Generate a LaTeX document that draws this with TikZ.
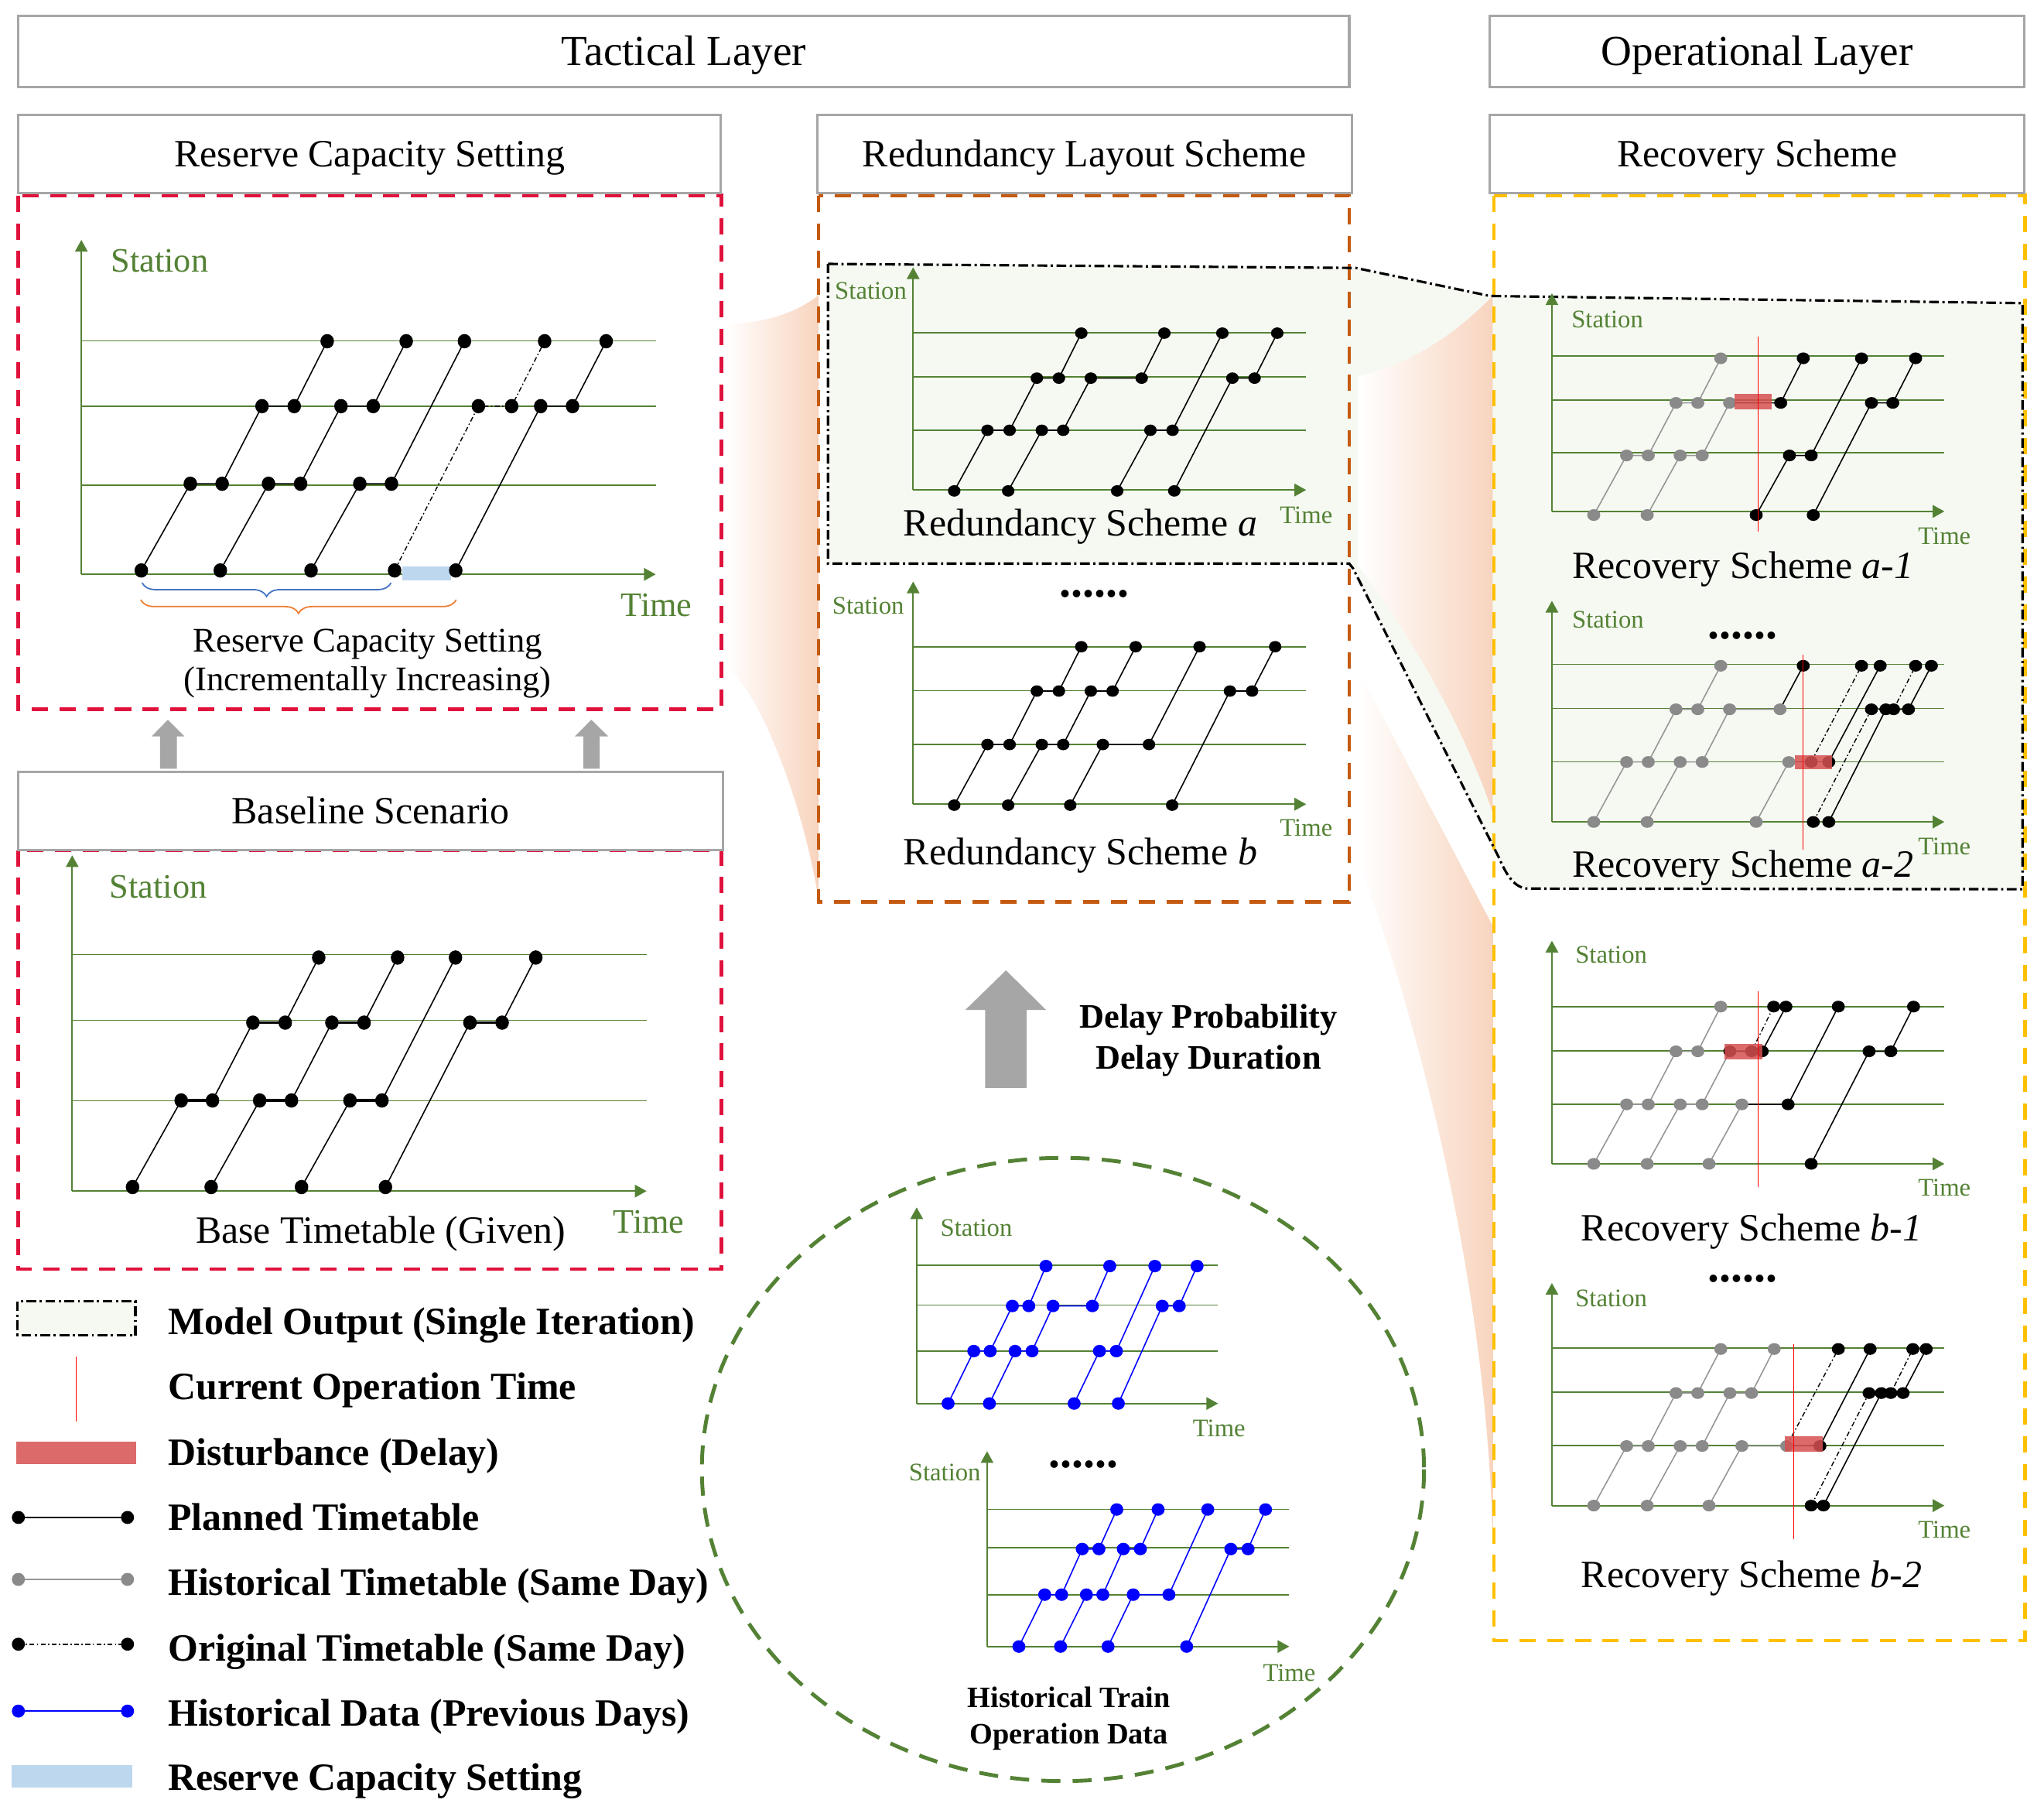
\documentclass[tikz,border=0pt]{standalone}
\usepackage{fontspec}
\setmainfont{Liberation Serif}
\usetikzlibrary{arrows.meta,decorations.pathreplacing}
\newlength{\px}\setlength{\px}{0.16849mm}
\definecolor{grn}{RGB}{84,130,53}
\definecolor{hdrgray}{RGB}{166,166,166}
\definecolor{crim}{RGB}{224,18,60}
\definecolor{orng}{RGB}{197,90,17}
\definecolor{yllw}{RGB}{255,192,0}
\definecolor{mofill}{RGB}{246,249,242}
\definecolor{funnel}{RGB}{248,212,190}
\definecolor{delayred}{RGB}{214,80,80}
\definecolor{resblue}{RGB}{189,215,238}
\definecolor{histgray}{RGB}{138,138,138}
\definecolor{histline}{RGB}{150,150,150}
\definecolor{datablue}{RGB}{0,0,255}
\definecolor{brblue}{RGB}{68,114,196}
\definecolor{brorange}{RGB}{237,125,49}
\definecolor{arrowgray}{RGB}{166,166,166}
\newcommand{\pts}[4]{\foreach \xx/\yy in {#4}{\fill[#1] (\xx,\yy) ellipse [x radius=#2, y radius=#3];}}
\tikzset{
 txt/.style={inner sep=0pt, text depth=0pt},
 titlebox/.style={draw=hdrgray, line width=0.9pt, fill=white, inner sep=0pt, text depth=0pt, text height=10.4pt, font=\fontsize{15.7}{18}\selectfont},
 hdrbox/.style={draw=hdrgray, line width=0.9pt, fill=white, inner sep=0pt, text depth=0pt, text height=9.4pt, font=\fontsize{14.2}{17}\selectfont},
 capt/.style={txt, text height=9.4pt, font=\fontsize{14.2}{17}\selectfont},
 captsm/.style={txt, text height=8.4pt, font=\fontsize{12.7}{15}\selectfont},
 slbl/.style={txt, text height=6.1pt, text=grn, font=\fontsize{9.3}{11}\selectfont},
 blbl/.style={txt, text height=8.3pt, text=grn, font=\fontsize{12.6}{15}\selectfont},
 legtxt/.style={txt, text height=9.4pt, anchor=west, font=\fontsize{14.2}{17}\selectfont\bfseries},
 boldtxt/.style={txt, text height=8.3pt, font=\fontsize{12.6}{15}\selectfont\bfseries},
 histtxt/.style={txt, text height=7.2pt, font=\fontsize{10.9}{13}\selectfont\bfseries},
 ellip/.style={inner sep=0pt, text height=2pt, text depth=0pt, font=\fontsize{17}{20}\selectfont\bfseries},
 dashbox/.style={line width=1.3pt, dash pattern=on 6pt off 4.2pt},
 modelout/.style={draw=black, line width=0.9pt, dash pattern=on 3.6pt off 1.3pt on 0.8pt off 1.3pt},
 axisln/.style={draw=grn, line width=0.6pt, -{Triangle[length=4.3pt,width=4.6pt]}},
 stn/.style={draw=grn, line width=0.45pt},
 trn/.style={draw=black, line width=0.45pt},
 hst/.style={draw=histline, line width=0.45pt},
 org/.style={draw=black, line width=0.4pt, dash pattern=on 1.8pt off 0.9pt on 0.5pt off 0.9pt},
 blu/.style={draw=datablue, line width=0.45pt},
 nowln/.style={draw=red, line width=0.45pt},
 delay/.style={fill=delayred, fill opacity=0.85},
}
\begin{document}
\begin{tikzpicture}[x=0.16849mm, y=-0.16849mm]
\useasboundingbox (0,0) rectangle (1568,1388);
\fill[white] (0,0) rectangle (1568,1388);

% model output area (fill)
\fill[mofill] (635.2,202.4) -- (1040,205.5) -- (1143,227) -- (1551.5,232.5) -- (1551.5,682) -- (1172,681.5) .. controls (1162,681) and (1156,672) .. (1150,658) -- (1038,436) -- (1035,432.2) -- (635.2,432.2) -- cycle;

% funnels
\shade[left color=white, right color=funnel] (556,249) .. controls (590,247) and (610,240) .. (628,226.5) -- (628,690) .. controls (615,610) and (580,525) .. (556,511) -- cycle;
\shade[left color=white, right color=funnel] (1042,288.5) .. controls (1080,280) and (1115,258) .. (1145,227) -- (1145,623) .. controls (1120,550) and (1080,485) .. (1042,434) -- cycle;
\shade[left color=white, right color=funnel] (1042,514) -- (1145,710) -- (1145,1179) .. controls (1140,960) and (1075,745) .. (1042,661) -- cycle;

% dashed frames
\draw[crim, dashbox] (14,150) rectangle (553.5,544);
\draw[crim, dashbox] (14,652) rectangle (553.5,973.3);
\draw[orng, dashbox] (628,150) rectangle (1035,691.7);
\draw[yllw, dashbox] (1146,150) rectangle (1553.4,1258.2);

% headers
\node[titlebox, minimum width=1021*\px, minimum height=55*\px] (tac) at (524.5,39.5) {Tactical Layer};
\node[titlebox, minimum width=410*\px, minimum height=55*\px] (opl) at (1348,39.5) {Operational Layer};
\node[hdrbox, minimum width=539*\px, minimum height=60*\px] (rcs) at (283.5,118) {Reserve Capacity Setting};
\node[hdrbox, minimum width=410*\px, minimum height=60*\px] (rls) at (832,118) {Redundancy Layout Scheme};
\node[hdrbox, minimum width=410*\px, minimum height=60*\px] (rec) at (1348,118) {Recovery Scheme};
\node[hdrbox, minimum width=541*\px, minimum height=60*\px] (bsl) at (284.3,622) {Baseline Scenario};

% model output outline
\draw[modelout] (635.2,202.4) -- (1040,205.5) -- (1143,227) -- (1551.5,232.5) -- (1551.5,682) -- (1172,681.5) .. controls (1162,681) and (1156,672) .. (1150,658) -- (1038,436) -- (1035,432.2) -- (635.2,432.2) -- cycle;

% small gray arrows
\fill[arrowgray] (122.8,589.5) -- (122.8,564.8) -- (116.3,564.8) -- (128.8,552) -- (141.5,564.8) -- (135.7,564.8) -- (135.7,589.5) -- cycle;
\fill[arrowgray] (447.5,589.5) -- (447.5,564.8) -- (441,564.8) -- (453.6,552) -- (466.7,564.8) -- (460,564.8) -- (460,589.5) -- cycle;
% big gray arrow
\fill[arrowgray] (755.8,834.4) -- (755.8,774.5) -- (740.6,774.5) -- (771.7,744.2) -- (802.4,774.5) -- (787.5,774.5) -- (787.5,834.4) -- cycle;
\node[boldtxt] (dprob) at (927,780) {Delay Probability};
\node[boldtxt] (ddur) at (927,811) {Delay Duration};

%================ Chart 1: reserve capacity
\draw[axisln] (62.4,440.5) -- (62.4,184);
\draw[axisln] (62.4,440.5) -- (503,440.5);
\foreach \yy in {261.5,311.5,372} \draw[stn] (62.4,\yy) -- (503,\yy);
\fill[resblue] (308.6,434.5) rectangle (346.2,445);
\draw[trn] (108.4,437.5) -- (146,371) -- (170.4,371) -- (201,311.5) -- (225.7,311.5) -- (251,261.7);
\draw[trn] (169,437.5) -- (206,371) -- (230.6,371) -- (261.6,311.5) -- (286.3,311.5) -- (311.6,261.7);
\draw[trn] (238.6,437.5) -- (276,371) -- (300.3,371) -- (356.3,261.7);
\draw[org] (302.7,437.5) -- (367,311.5) -- (392.5,311.5) -- (417.8,261.7);
\draw[trn] (349.6,437.5) -- (414.8,311.5) -- (439.2,311.5) -- (465,261.7);
\pts{black}{5.2}{5.5}{108.4/437.5,169/437.5,238.6/437.5,302.7/437.5,349.6/437.5,
 146/371,170.4/371,206/371,230.6/371,276/371,300.3/371,
 201/311.5,225.7/311.5,261.6/311.5,286.3/311.5,367/311.5,392.5/311.5,414.8/311.5,439.2/311.5,
 251/261.7,311.6/261.7,356.3/261.7,417.8/261.7,465/261.7}
\draw[brblue, line width=0.5pt, decorate, decoration={brace, mirror, amplitude=5pt}] (109,447) -- (300,447);
\draw[brorange, line width=0.5pt, decorate, decoration={brace, mirror, amplitude=5pt}] (108,460) -- (350,460);
\node[blbl] (st1) at (122.5,200) {Station};
\node[blbl] (tm1) at (503.6,464) {Time};
\node[captsm] (c1a) at (282,491) {Reserve Capacity Setting};
\node[captsm] (c1b) at (282,521) {(Incrementally Increasing)};

%================ Chart 2: baseline
\draw[axisln] (55.4,913.5) -- (55.4,656);
\draw[axisln] (55.4,913.5) -- (496,913.5);
\foreach \yy in {732,782.6,844.3} \draw[stn] (55.4,\yy) -- (496,\yy);
\draw[trn] (101.7,910.4) -- (139,844) -- (163,844) -- (194,784.3) -- (218.8,784.3) -- (244.5,734.4);
\draw[trn] (162,910.4) -- (199.2,844) -- (223.6,844) -- (254.6,784.3) -- (279.3,784.3) -- (305,734.4);
\draw[trn] (231.3,910.4) -- (268.5,844) -- (293,844) -- (349.4,734.4);
\draw[trn] (295.7,910.4) -- (360.5,784.3) -- (385.2,784.3) -- (411,734.4);
\foreach \a/\b in {139/163,199.2/223.6,268.5/293} \draw[black, line width=1.1pt] (\a,844) -- (\b,844);
\foreach \a/\b in {194/218.8,254.6/279.3,360.5/385.2} \draw[black, line width=1.1pt] (\a,784.3) -- (\b,784.3);
\pts{black}{5.2}{5.5}{101.7/910.4,162/910.4,231.3/910.4,295.7/910.4,
 139/844,163/844,199.2/844,223.6/844,268.5/844,293/844,
 194/784.3,218.8/784.3,254.6/784.3,279.3/784.3,360.5/784.3,385.2/784.3,
 244.5/734.4,305/734.4,349.4/734.4,411/734.4}
\node[blbl] (st2) at (121.5,680) {Station};
\node[blbl] (tm2) at (497.7,937) {Time};
\node[capt] (c2) at (292,943.5) {Base Timetable (Given)};

%================ Chart 3: redundancy a
\draw[axisln] (700.5,375.8) -- (700.5,205);
\draw[axisln] (700.5,375.8) -- (1002,375.8);
\foreach \yy in {255.2,289,330.1} \draw[stn] (700.5,\yy) -- (1002,\yy);
\draw[trn] (732,376.5) -- (757.5,330) -- (774.5,330) -- (795.4,290) -- (812.3,290) -- (829.5,255.5);
\draw[trn] (773.4,376.5) -- (799.2,330) -- (815.6,330) -- (836.8,290) -- (875.8,290) -- (893.2,255.5);
\draw[trn] (857,376.5) -- (882.5,330) -- (899.5,330) -- (937.7,255.5);
\draw[trn] (900.8,376.5) -- (945.4,290) -- (962.4,290) -- (979.8,255.5);
\pts{black}{4.8}{4.4}{732/376.5,773.4/376.5,857/376.5,900.8/376.5,
 757.5/330,774.5/330,799.2/330,815.6/330,882.5/330,899.5/330,
 795.4/290,812.3/290,836.8/290,875.8/290,945.4/290,962.4/290,
 829.5/255.5,893.2/255.5,937.7/255.5,979.8/255.5}
\node[slbl] (st3) at (668,223) {Station};
\node[slbl] (tm3) at (1002,395) {Time};
\node[capt] (c3) at (828.8,401) {Redundancy Scheme \textit{a}};
\node[ellip] (el1) at (839.5,455.8) {......};

%================ Chart 4: redundancy b
\draw[axisln] (700.5,616.8) -- (700.5,446);
\draw[axisln] (700.5,616.8) -- (1002,616.8);
\foreach \yy in {496,529.7,570.9} \draw[stn] (700.5,\yy) -- (1002,\yy);
\draw[trn] (732,617.5) -- (757.5,571) -- (774.5,571) -- (795.4,530) -- (812.3,530) -- (829.5,496);
\draw[trn] (773.4,617.5) -- (799.2,571) -- (815.6,571) -- (836.8,530) -- (853.5,530) -- (871.2,496);
\draw[trn] (821,617.5) -- (846,571) -- (881.4,571) -- (920.2,496);
\draw[trn] (899.2,617.5) -- (943.5,530) -- (960.5,530) -- (978.2,496);
\pts{black}{4.8}{4.4}{732/617.5,773.4/617.5,821/617.5,899.2/617.5,
 757.5/571,774.5/571,799.2/571,815.6/571,846/571,881.4/571,
 795.4/530,812.3/530,836.8/530,853.5/530,943.5/530,960.5/530,
 829.5/496,871.2/496,920.2/496,978.2/496}
\node[slbl] (st4) at (666,464.7) {Station};
\node[slbl] (tm4) at (1002,635) {Time};
\node[capt] (c4) at (828.8,653.4) {Redundancy Scheme \textit{b}};

%================ Chart a-1
\draw[axisln] (1190.5,392.2) -- (1190.5,225);
\draw[axisln] (1190.5,392.2) -- (1491.6,392.2);
\foreach \yy in {273,306.8,347.2} \draw[stn] (1190.5,\yy) -- (1491.6,\yy);
\draw[hst] (1222.6,395) -- (1247.8,349.3) -- (1264.4,349.3) -- (1285.7,309) -- (1302.4,309) -- (1320,274.8);
\draw[hst] (1263.6,395) -- (1288.9,349.3) -- (1305.8,349.3) -- (1326.8,309);
\draw[trn] (1326.8,309) -- (1366,309) -- (1383.3,274.8);
\draw[trn] (1347.2,395) -- (1372.7,349.3) -- (1389.4,349.3) -- (1428,274.8);
\draw[trn] (1391,395) -- (1435.6,309) -- (1452,309) -- (1469.5,274.8);
\pts{histgray}{5}{4.5}{1222.6/395,1263.6/395,1247.8/349.3,1264.4/349.3,1288.9/349.3,1305.8/349.3,1285.7/309,1302.4/309,1326.8/309,1320/274.8}
\pts{black}{5}{4.5}{1347.2/395,1391/395,1372.7/349.3,1389.4/349.3,1366/309,1435.6/309,1452/309,1383.3/274.8,1428/274.8,1469.5/274.8}
\fill[delay] (1330.3,302) rectangle (1359,313.8);
\draw[nowln] (1348.6,258) -- (1348.6,408);
\node[slbl] (st5) at (1233,245) {Station};
\node[slbl] (tm5) at (1491.6,411.3) {Time};
\node[capt] (c5) at (1337,434) {Recovery Scheme \textit{a-1}};

%================ Chart a-2
\draw[axisln] (1190.5,630.4) -- (1190.5,460.8);
\draw[axisln] (1190.5,630.4) -- (1491.6,630.4);
\foreach \yy in {509.6,543.3,584.4} \draw[stn] (1190.5,\yy) -- (1491.6,\yy);
\draw[hst] (1222.6,630.4) -- (1247.8,584.4) -- (1264.4,584.4) -- (1285.7,544) -- (1302.4,544) -- (1320,510.6);
\draw[hst] (1263.6,630.4) -- (1288.9,584.4) -- (1305.8,584.4) -- (1326.8,544) -- (1365.5,544);
\draw[trn] (1365.5,544) -- (1383.3,510.6);
\draw[hst] (1347.2,630.4) -- (1372.2,584.4);
\draw[trn] (1372.2,584.4) -- (1402.9,584.4);
\draw[org] (1389.4,584.4) -- (1428,510.6);
\draw[trn] (1402.9,584.4) -- (1442.3,510.6);
\draw[org] (1391,630.4) -- (1435.6,544) -- (1452.6,544) -- (1469.5,510.6);
\draw[trn] (1402.9,630.4) -- (1446.7,544) -- (1464,544) -- (1481.6,510.6);
\pts{histgray}{5}{4.5}{1222.6/630.4,1263.6/630.4,1347.2/630.4,1247.8/584.4,1264.4/584.4,1288.9/584.4,1305.8/584.4,1372.2/584.4,1285.7/544,1302.4/544,1326.8/544,1365.5/544,1320/510.6}
\pts{black}{5}{4.5}{1383.3/510.6,1428/510.6,1442.3/510.6,1469.5/510.6,1481.6/510.6,1435.6/544,1446.7/544,1452.6/544,1464/544,1389.4/584.4,1402.9/584.4,1391/630.4,1402.9/630.4}
\fill[delay] (1376.9,579.3) rectangle (1405.6,590);
\draw[nowln] (1383,501.8) -- (1383,651.6);
\node[slbl] (st6) at (1233.5,475) {Station};
\node[ellip] (el2) at (1337,488) {......};
\node[slbl] (tm6) at (1491.6,649.3) {Time};
\node[capt] (c6) at (1337,663.1) {Recovery Scheme \textit{a-2}};

%================ Chart b-1
\draw[axisln] (1190.5,892.6) -- (1190.5,721.5);
\draw[axisln] (1190.5,892.6) -- (1491.6,892.6);
\foreach \yy in {772.1,805.9,847} \draw[stn] (1190.5,\yy) -- (1491.6,\yy);
\draw[hst] (1222.6,892.6) -- (1247.8,847) -- (1264.4,847) -- (1285.7,806.3) -- (1302.4,806.3) -- (1320,772);
\draw[hst] (1263.6,892.6) -- (1288.9,847) -- (1305.8,847) -- (1327,806.3);
\draw[trn] (1327,806.3) -- (1351.8,806.3) -- (1370,772);
\draw[org] (1343.7,806.3) -- (1360.6,772);
\draw[hst] (1311,892.6) -- (1336.2,847);
\draw[trn] (1336.2,847) -- (1371.7,847) -- (1410.2,772);
\draw[trn] (1389.4,892.6) -- (1433.8,806.3) -- (1450.5,806.3) -- (1467.9,772);
\pts{histgray}{5}{4.5}{1222.6/892.6,1263.6/892.6,1311/892.6,1247.8/847,1264.4/847,1288.9/847,1305.8/847,1336.2/847,1285.7/806.3,1302.4/806.3,1320/772}
\pts{black}{5}{4.5}{1327/806.3,1343.7/806.3,1351.8/806.3,1433.8/806.3,1450.5/806.3,1360.6/772,1370/772,1410.2/772,1467.9/772,1371.7/847,1389.4/892.6}
\fill[delay] (1323,800.8) rectangle (1351.8,812.2);
\draw[nowln] (1348.6,760) -- (1348.6,910.6);
\node[slbl] (st7) at (1236,732.5) {Station};
\node[slbl] (tm7) at (1491.6,910.6) {Time};
\node[capt] (c7) at (1343.7,941.7) {Recovery Scheme \textit{b-1}};
\node[ellip] (el3) at (1337,981) {......};

%================ Chart b-2
\draw[axisln] (1190.5,1154.7) -- (1190.5,984);
\draw[axisln] (1190.5,1154.7) -- (1491.6,1154.7);
\foreach \yy in {1033.8,1067.6,1108.8} \draw[stn] (1190.5,\yy) -- (1491.6,\yy);
\draw[hst] (1222.6,1154.7) -- (1247.8,1109) -- (1264.4,1109) -- (1285.7,1068.4) -- (1302.4,1068.4) -- (1320,1034.6);
\draw[hst] (1263.6,1154.7) -- (1288.9,1109) -- (1305.8,1109) -- (1327,1068.4) -- (1343.7,1068.4) -- (1361,1034.6);
\draw[hst] (1311,1154.7) -- (1336.2,1109) -- (1370.6,1109);
\draw[trn] (1370.6,1109) -- (1396.1,1109);
\draw[org] (1370.6,1109) -- (1410.2,1034.6);
\draw[trn] (1396.1,1109) -- (1434.6,1034.6);
\draw[org] (1389.4,1154.7) -- (1433.8,1068.4) -- (1450.5,1068.4) -- (1467.4,1034.6);
\draw[trn] (1398.8,1154.7) -- (1443.2,1068.4) -- (1459.9,1068.4) -- (1477.6,1034.6);
\pts{histgray}{5}{4.5}{1222.6/1154.7,1263.6/1154.7,1311/1154.7,1247.8/1109,1264.4/1109,1288.9/1109,1305.8/1109,1336.2/1109,1370.6/1109,1285.7/1068.4,1302.4/1068.4,1327/1068.4,1343.7/1068.4,1320/1034.6,1361/1034.6}
\pts{black}{5}{4.5}{1396.1/1109,1410.2/1034.6,1434.6/1034.6,1467.4/1034.6,1477.6/1034.6,1433.8/1068.4,1443.2/1068.4,1450.5/1068.4,1459.9/1068.4,1389.4/1154.7,1398.8/1154.7}
\fill[delay] (1369.3,1101.5) rectangle (1398.2,1113.2);
\draw[nowln] (1376,1031) -- (1376,1180.5);
\node[slbl] (st8) at (1236,996) {Station};
\node[slbl] (tm8) at (1491.6,1173) {Time};
\node[capt] (c8) at (1343.7,1208) {Recovery Scheme \textit{b-2}};

%================ Historical data circle
\draw[grn, line width=1.4pt, dash pattern=on 7pt off 4.5pt] (815.4,1127) ellipse [x radius=277, y radius=239];
\draw[axisln] (703.2,1076.4) -- (703.2,926);
\draw[axisln] (703.2,1076.4) -- (934.4,1076.4);
\foreach \yy in {970.3,1000.9,1036.2} \draw[stn] (703.2,\yy) -- (934.4,\yy);
\draw[blu] (727.3,1076.4) -- (747,1036.2) -- (759.6,1036.2) -- (776.6,1001.6) -- (789.2,1001.6) -- (802.4,971);
\draw[blu] (759,1076.4) -- (778.7,1036.2) -- (791.7,1036.2) -- (807.8,1001.6) -- (838,1001.6) -- (851.3,971);
\draw[blu] (824,1076.4) -- (843.4,1036.2) -- (856.4,1036.2) -- (885.9,971);
\draw[blu] (857.9,1076.4) -- (891.6,1001.6) -- (904.6,1001.6) -- (918.3,971);
\pts{datablue}{5}{4.8}{727.3/1076.4,759/1076.4,824/1076.4,857.9/1076.4,
 747/1036.2,759.6/1036.2,778.7/1036.2,791.7/1036.2,843.4/1036.2,856.4/1036.2,
 776.6/1001.6,789.2/1001.6,807.8/1001.6,838/1001.6,891.6/1001.6,904.6/1001.6,
 802.4/971,851.3/971,885.9/971,918.3/971}
\node[slbl] (st9) at (749,941.5) {Station};
\node[slbl] (tm9) at (935.2,1095.7) {Time};
\node[ellip] (el4) at (831,1123.7) {......};
\draw[axisln] (757.2,1262.8) -- (757.2,1113);
\draw[axisln] (757.2,1262.8) -- (989,1262.8);
\foreach \yy in {1157.7,1187,1223} \draw[stn] (757.2,\yy) -- (989,\yy);
\draw[blu] (781.6,1262.8) -- (801.4,1223) -- (814.4,1223) -- (830.2,1188) -- (843,1188) -- (856.7,1157.7);
\draw[blu] (813.6,1262.8) -- (833.4,1223) -- (846,1223) -- (861.7,1188) -- (874.8,1188) -- (888.4,1157.7);
\draw[blu] (850,1262.8) -- (869.3,1223) -- (896.7,1223) -- (926.5,1157.7);
\draw[blu] (910.3,1262.8) -- (944.2,1188) -- (957.4,1188) -- (970.8,1157.7);
\pts{datablue}{5}{4.8}{781.6/1262.8,813.6/1262.8,850/1262.8,910.3/1262.8,
 801.4/1223,814.4/1223,833.4/1223,846/1223,869.3/1223,896.7/1223,
 830.2/1188,843/1188,861.7/1188,874.8/1188,944.2/1188,957.4/1188,
 856.7/1157.7,888.4/1157.7,926.5/1157.7,970.8/1157.7}
\node[slbl] (st10) at (724.8,1129) {Station};
\node[slbl] (tm10) at (989,1282.7) {Time};
\node[histtxt] (ht1) at (820,1302) {Historical Train};
\node[histtxt] (ht2) at (820,1330) {Operation Data};

%================ Legend
\draw[modelout, fill=mofill] (13.4,998) rectangle (103.9,1024.2);
\draw[nowln] (58.4,1040.4) -- (58.4,1090);
\fill[delay] (12.3,1105.5) rectangle (104.5,1122.7);
\draw[trn, line width=0.6pt] (14.1,1163.8) -- (97.8,1163.8);
\pts{black}{5}{5}{14.1/1163.8,97.8/1163.8}
\draw[hst, line width=0.6pt] (14.1,1211.3) -- (97.8,1211.3);
\pts{histgray}{5}{5}{14.1/1211.3,97.8/1211.3}
\draw[org, line width=0.5pt] (14.1,1261) -- (97.8,1261);
\pts{black}{5}{5}{14.1/1261,97.8/1261}
\draw[blu, line width=0.6pt] (14.1,1312.3) -- (97.8,1312.3);
\pts{datablue}{5}{5}{14.1/1312.3,97.8/1312.3}
\fill[resblue] (8.8,1354) rectangle (101.4,1371.2);
\node[legtxt] (lg1) at (128.5,1013.4) {Model Output (Single Iteration)};
\node[legtxt] (lg2) at (128.5,1063.5) {Current Operation Time};
\node[legtxt] (lg3) at (128.5,1113.7) {Disturbance (Delay)};
\node[legtxt] (lg4) at (128.5,1163.8) {Planned Timetable};
\node[legtxt] (lg5) at (128.5,1213.9) {Historical Timetable (Same Day)};
\node[legtxt] (lg6) at (128.5,1264) {Original Timetable (Same Day)};
\node[legtxt] (lg7) at (128.5,1314.2) {Historical Data (Previous Days)};
\node[legtxt] (lg8) at (128.5,1363) {Reserve Capacity Setting};
\end{tikzpicture}
\end{document}
